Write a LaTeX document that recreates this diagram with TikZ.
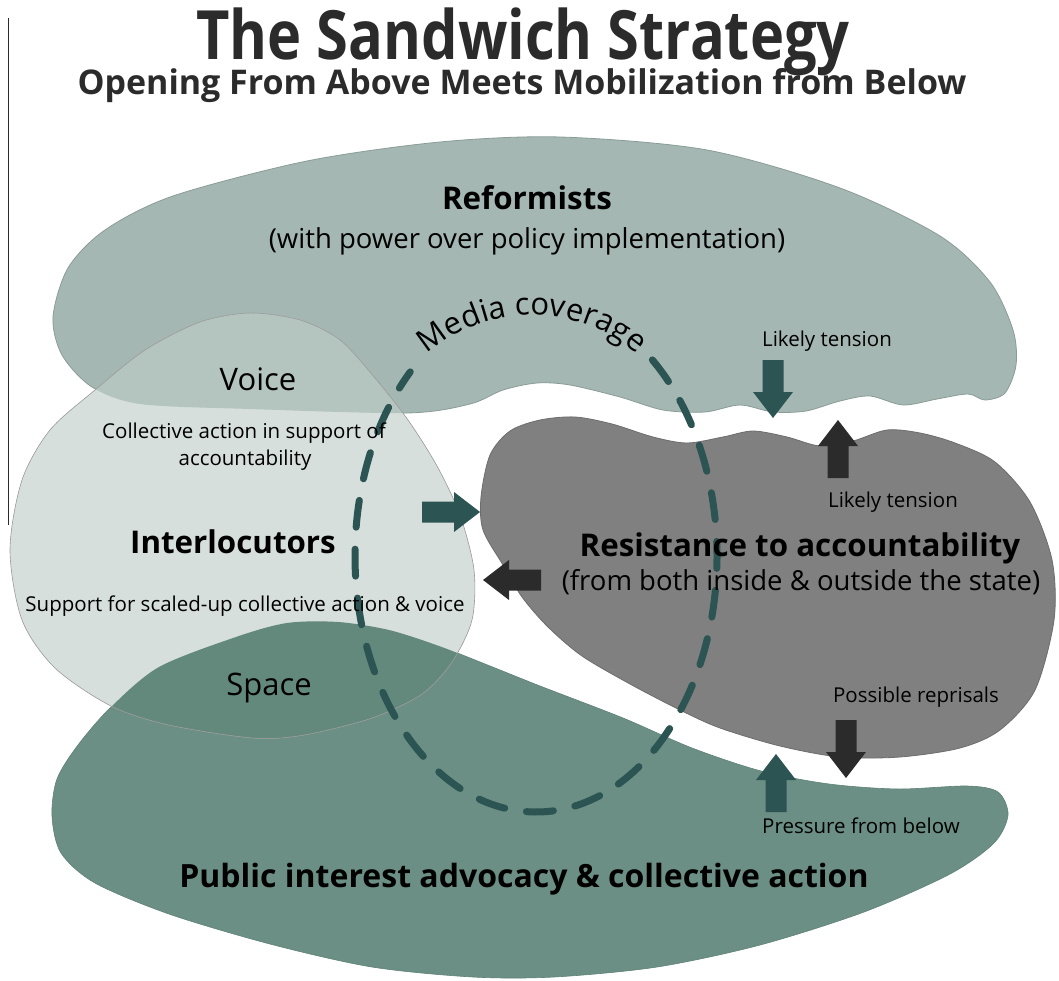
\documentclass[tikz,border=0pt]{standalone}
\usepackage{fontspec}
\setmainfont{Open Sans}
\newfontfamily\titlefont[FakeStretch=0.85]{Open Sans}
\usetikzlibrary{decorations.text}

\definecolor{reformfill}{HTML}{A4B7B2}
\definecolor{interfill}{HTML}{D6DFDC}
\definecolor{voicefill}{HTML}{B4C4BF}
\definecolor{resistfill}{HTML}{808080}
\definecolor{publicfill}{HTML}{6B8F84}
\definecolor{spacefill}{HTML}{63887C}
\definecolor{tealdark}{HTML}{2C5452}
\definecolor{greydark}{HTML}{2B2B2B}

\newcommand\mediafont{\fontsize{31}{36}\selectfont}
% tip, rotation, colour
\newcommand\blockarrow[3]{%
  \fill[#3, shift={#1}, rotate=#2] (0,0) -- (-26,-20) -- (-26,-10.5) -- (-58,-10.5) -- (-58,10.5) -- (-26,10.5) -- (-26,20) -- cycle;}

\newcommand\reformpath{plot[smooth cycle, tension=0.5] coordinates {(53,317) (68,268) (105,230) (173,196) (307,161) (440,142) (560,137) (707,150) (840,188) (940,236) (990,282) (1013,330) (1016,365) (1005,393) (985,400) (968,394) (937,399) (903,405) (870,396) (840,401) (806,411) (773,412) (740,405) (705,412) (663,410) (620,397) (570,385) (537,383) (503,390) (470,404) (407,413) (250,409) (140,404) (92,387) (62,355)}}
\newcommand\resistpath{plot[smooth cycle, tension=0.5] coordinates {(483,530) (481,497) (490,455) (510,431) (540,420) (575,417) (612,424) (653,437) (687,443) (723,437) (753,431) (787,437) (820,446) (853,441) (887,430) (920,433) (955,443) (995,462) (1030,502) (1052,560) (1054,620) (1035,690) (1000,730) (960,748) (900,757) (840,757) (780,746) (720,728) (680,710) (630,684) (582,656) (548,627) (522,597) (503,565)}}
\newcommand\publicpath{plot[smooth cycle, tension=0.5] coordinates {(78,745) (111,707) (159,667) (236,637) (287,623) (338,622) (389,630) (439,646) (490,666) (540,686) (623,718) (692,748) (761,771) (829,784) (898,789) (967,786) (998,792) (1008,815) (994,843) (950,874) (864,912) (760,945) (657,967) (554,977) (473,977) (372,967) (270,944) (169,914) (95,883) (61,853) (52,816) (57,779)}}
\newcommand\interpath{plot[smooth cycle, tension=0.5] coordinates {(250,313) (300,320) (340,340) (375,378) (408,420) (437,466) (460,515) (474,570) (472,620) (452,662) (422,694) (372,718) (304,735) (253,738) (169,725) (111,706) (55,668) (22,620) (10,550) (22,480) (50,430) (95,390) (145,350) (200,322)}}

\tikzset{
  smalltxt/.style={anchor=base, inner sep=0pt, font=\fontsize{20.5}{24}\selectfont},
  midtxt/.style={anchor=base, inner sep=0pt, font=\fontsize{27.5}{32}\selectfont},
  areatxt/.style={anchor=base, inner sep=0pt, font=\fontsize{31}{36}\selectfont},
  headtxt/.style={anchor=base, inner sep=0pt, font=\fontsize{31.3}{36}\selectfont\bfseries},
  mediadash/.style={tealdark, line width=7pt, line cap=round, dash pattern=on 27pt off 22pt},
}

\begin{document}
\begin{tikzpicture}[x=1pt, y=-1pt]
\fill[white] (0,0) rectangle (1059,981);
\useasboundingbox (0,0) rectangle (1059,981);
\draw[greydark, line width=1pt] (8,18) -- (8,525);

\fill[reformfill, draw=reformfill!85!black, line width=0.8pt] \reformpath;% Reformists
\fill[publicfill, draw=publicfill!90!black, line width=0.6pt] \publicpath;% Public interest
\fill[resistfill, draw=resistfill!85!black, line width=0.8pt] \resistpath;% Resistance
\fill[interfill] \interpath;% Interlocutors
\begin{scope}
  \clip \interpath;
  \fill[voicefill] \reformpath;% Voice overlap
  \fill[spacefill] \publicpath;% Space overlap
\end{scope}
\draw[gray!80, line width=0.6pt] \interpath;

% media coverage ring
\coordinate (mc) at (536,556);
\draw[mediadash] (mc) ++(-50:181 and 256) arc[start angle=-50, end angle=226, x radius=181, y radius=256];
\path[decorate, decoration={text along path, text align=center, text={|\mediafont|Media coverage}}]
  (532,475) ++(-130:160) arc[start angle=-130, end angle=-50, radius=160];

% block arrows
\blockarrow{(480,512)}{0}{tealdark}
\blockarrow{(483,580)}{180}{greydark}
\blockarrow{(773,418)}{-90}{tealdark}
\blockarrow{(838,420)}{90}{greydark}
\blockarrow{(846,778)}{-90}{greydark}
\blockarrow{(776,754)}{90}{tealdark}

% titles
\node[anchor=base, inner sep=0pt, font=\titlefont\bfseries\fontsize{68}{74}\selectfont, text=greydark] (title) at (523,60) {The Sandwich Strategy};
\node[anchor=base, inner sep=0pt, font=\bfseries\fontsize{34}{40}\selectfont, text=greydark] (subtitle) at (522,95) {Opening From Above Meets Mobilization from Below};

% labels
\node[headtxt] (reform) at (527,210) {Reformists};
\node[midtxt] (reformsub) at (527,249) {(with power over policy implementation)};
\node[areatxt] (voice) at (258,390) {Voice};
\node[smalltxt] (collect) at (244,438) {Collective action in support of};
\node[smalltxt] (collect2) at (245,465) {accountability};
\node[headtxt] (inter) at (233,553) {Interlocutors};
\node[smalltxt] (support) at (245,611) {Support for scaled-up collective action \& voice};
\node[areatxt] (space) at (269,695) {Space};
\node[smalltxt] (tension1) at (827,346) {Likely tension};
\node[smalltxt] (tension2) at (893,507) {Likely tension};
\node[headtxt] (resist) at (800,556) {Resistance to accountability};
\node[midtxt] (resistsub) at (801,590) {(from both inside \& outside the state)};
\node[smalltxt] (reprisal) at (916,702) {Possible reprisals};
\node[smalltxt] (pressure) at (861,833) {Pressure from below};
\node[headtxt, font=\fontsize{32}{38}\selectfont\bfseries] (public) at (524,887) {Public interest advocacy \& collective action};
\end{tikzpicture}
\end{document}
